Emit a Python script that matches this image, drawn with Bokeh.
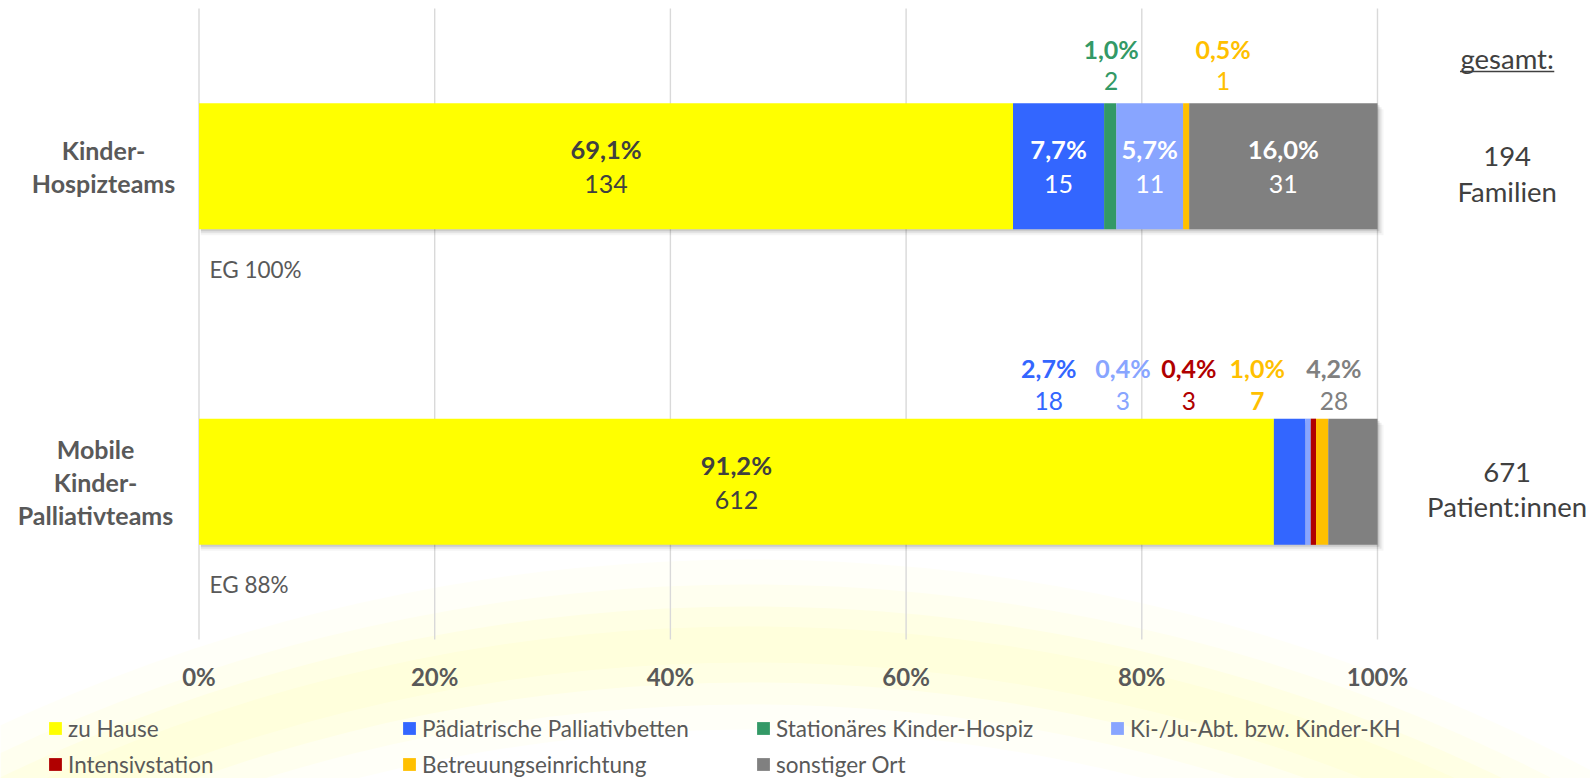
from bokeh.plotting import figure
from bokeh.models import (Range1d, FixedTicker, PrintfTickFormatter, ColumnDataSource,
                          Legend, LegendItem, LinearAxis)
from bokeh.core.properties import value
from bokeh.embed import file_html
from bokeh.resources import INLINE

# ---------------- data ----------------
categories = ["Kinder-Hospizteams", "Mobile Kinder-Palliativteams"]
category_labels = ["Kinder-\nHospizteams", "Mobile\nKinder-\nPalliativteams"]
series_names = ["zu Hause", "Pädiatrische Palliativbetten", "Stationäres Kinder-Hospiz",
                "Ki-/Ju-Abt. bzw. Kinder-KH", "Intensivstation", "Betreuungseinrichtung",
                "sonstiger Ort"]
counts_hospiz = [134, 15, 2, 11, 0, 1, 31]
counts_palliativ = [612, 18, 0, 3, 3, 7, 28]
totals = [194, 671]
total_units = ["Familien", "Patient:innen"]
total_header = "gesamt:"
eg_labels = ["EG 100%", "EG 88%"]
x_ticks = [0, 20, 40, 60, 80, 100]

# ---------------- styles / layout ----------------
series_colors = ["#FFFF00", "#3366FF", "#339966", "#88A5FF", "#B00000", "#FFC000", "#808080"]
inside_text_colors = ["#404040", "white", "white", "white", "white", "white", "white"]
FONT = "Lato"
W, H = 1590, 778
PX_X0 = 198.5          # screen x of 0 %
PX_PER_PCT = 11.785    # screen px per percent
PX_TOP = 8             # screen y of top of category area
PX_PER_CAT = 315.5     # screen px per category band
BAR_H = 0.4
cat_y = [0.5, 1.5]
cat_label_x = [-8.1, -8.78]
# outside label positions (in % of x axis)
outside_x = {(0, 2): 77.4, (0, 5): 86.9, (1, 1): 72.1, (1, 3): 78.4,
             (1, 4): 84.0, (1, 5): 89.8, (1, 6): 96.3}
outside_pct_above = [54, 51]
outside_cnt_above = [22, 18]
bold_counts = {(1, 5)}
TOTAL_X = 111.0


def dy(px):
    return px / PX_PER_CAT


def fmt_pct(v):
    return f"{v:.1f}".replace(".", ",") + "%"


counts = [counts_hospiz, counts_palliativ]
shares = [[c / t * 100.0 for c in row] for row, t in zip(counts, totals)]

p = figure(width=W, height=H,
           x_range=Range1d(-PX_X0 / PX_PER_PCT, (W - PX_X0) / PX_PER_PCT),
           y_range=Range1d((H - PX_TOP) / PX_PER_CAT, -PX_TOP / PX_PER_CAT),
           output_backend="svg", toolbar_location=None, min_border=0,
           x_axis_location=None, y_axis_location=None)
p.outline_line_color = None
p.background_fill_color = "white"
p.border_fill_color = "white"
p.xgrid.visible = False
p.ygrid.visible = False

# background glow (decorative sun arc)
glow_x, glow_y, glow_r = 46.8, (2338 - PX_TOP) / PX_PER_CAT, 1694
for half, alpha in [(85, 0.035), (60, 0.045), (38, 0.05), (18, 0.045)]:
    p.annulus(x=[glow_x], y=[glow_y], inner_radius=glow_r - half, outer_radius=glow_r + half,
              inner_radius_units="screen", outer_radius_units="screen",
              fill_color="#FFFF30", fill_alpha=alpha, line_color=None, level="image")

# vertical gridlines
p.segment(x0=x_ticks, y0=[0] * len(x_ticks), x1=x_ticks, y1=[2] * len(x_ticks),
          line_color="#D9D9D9", line_width=1.4, level="underlay")

# bar shadows
for off, alpha in [(2, 0.10), (4, 0.07), (6, 0.04)]:
    p.hbar(y=[c + dy(off) for c in cat_y], left=[0.15, 0.15],
           right=[sum(s) + off / PX_PER_PCT for s in shares],
           height=BAR_H, fill_color="black", fill_alpha=alpha, line_color=None)

# stacked bars
renderers = []
for s, name in enumerate(series_names):
    left = [sum(shares[c][:s]) for c in range(2)]
    right = [sum(shares[c][:s + 1]) for c in range(2)]
    src = ColumnDataSource(dict(y=cat_y, left=left, right=right))
    r = p.hbar(y="y", left="left", right="right", height=BAR_H, source=src,
               fill_color=series_colors[s], line_color=None)
    renderers.append(r)

# value labels
in_rows = dict(x=[], yp=[], yc=[], pct=[], cnt=[], col=[])
out_rows = dict(x=[], yp=[], yc=[], pct=[], cnt=[], col=[])
out_bold = dict(x=[], y=[], cnt=[], col=[])
for c in range(2):
    for s in range(len(series_names)):
        if counts[c][s] == 0:
            continue
        mid = sum(shares[c][:s]) + shares[c][s] / 2
        if (c, s) in outside_x:
            top = cat_y[c] - BAR_H / 2
            out_rows["x"].append(outside_x[(c, s)])
            out_rows["yp"].append(top - dy(outside_pct_above[c]))
            out_rows["pct"].append(fmt_pct(shares[c][s]))
            out_rows["col"].append(series_colors[s])
            out_rows["yc"].append(top - dy(outside_cnt_above[c]))
            if (c, s) in bold_counts:
                out_bold["x"].append(outside_x[(c, s)])
                out_bold["y"].append(top - dy(outside_cnt_above[c]))
                out_bold["cnt"].append(str(counts[c][s]))
                out_bold["col"].append(series_colors[s])
                out_rows["cnt"].append("")
            else:
                out_rows["cnt"].append(str(counts[c][s]))
        else:
            in_rows["x"].append(mid)
            in_rows["yp"].append(cat_y[c] - dy(17))
            in_rows["yc"].append(cat_y[c] + dy(18))
            in_rows["pct"].append(fmt_pct(shares[c][s]))
            in_rows["cnt"].append(str(counts[c][s]))
            in_rows["col"].append(inside_text_colors[s])

isrc = ColumnDataSource(in_rows)
osrc = ColumnDataSource(out_rows)
bsrc = ColumnDataSource(out_bold)
common = dict(text_font=value(FONT), text_align="center", text_baseline="middle")
p.text(x="x", y="yp", text="pct", text_color="col", text_font_style="bold",
       text_font_size="25.5px", source=isrc, **common)
p.text(x="x", y="yc", text="cnt", text_color="col", text_font_size="25px", source=isrc, **common)
p.text(x="x", y="yp", text="pct", text_color="col", text_font_style="bold",
       text_font_size="25px", source=osrc, **common)
p.text(x="x", y="yc", text="cnt", text_color="col", text_font_size="24.5px", source=osrc, **common)
p.text(x="x", y="y", text="cnt", text_color="col", text_font_style="bold",
       text_font_size="24.5px", source=bsrc, **common)

# category labels
p.text(x=cat_label_x, y=cat_y, text=category_labels, text_color="#595959",
       text_font=value(FONT), text_font_style="bold", text_font_size="25px",
       text_align="center", text_baseline="middle", text_line_height=1.1)

# EG labels
p.text(x=[0.9, 0.9], y=[c + dy(103) for c in cat_y], text=eg_labels, text_color="#595959",
       text_font=value(FONT), text_font_size="22.5px", text_align="left", text_baseline="middle")

# totals on the right
p.text(x=[TOTAL_X], y=[dy(50)], text=[total_header], text_color="#404040",
       text_font=value(FONT), text_font_size="27.5px", text_align="center", text_baseline="middle")
p.segment(x0=[TOTAL_X - 4.0], y0=[dy(63)], x1=[TOTAL_X + 4.0], y1=[dy(63)],
          line_color="#404040", line_width=1.3)
p.text(x=[TOTAL_X] * 2, y=[c - dy(9.5) for c in cat_y], text=[str(t) for t in totals],
       text_color="#404040", text_font=value(FONT), text_font_size="27.5px",
       text_align="center", text_baseline="middle")
p.text(x=[TOTAL_X] * 2, y=[c + dy(25) for c in cat_y], text=total_units,
       text_color="#404040", text_font=value(FONT), text_font_size="27.5px",
       text_align="center", text_baseline="middle")

# x axis
xaxis = LinearAxis(ticker=FixedTicker(ticks=x_ticks), formatter=PrintfTickFormatter(format="%d%%"),
                   fixed_location=2.0)
xaxis.axis_line_color = None
xaxis.major_tick_line_color = None
xaxis.minor_tick_line_color = None
xaxis.major_tick_out = 0
xaxis.major_tick_in = 0
xaxis.major_label_standoff = 22
xaxis.major_label_text_font = FONT
xaxis.major_label_text_font_style = "bold"
xaxis.major_label_text_font_size = "24px"
xaxis.major_label_text_color = "#595959"
p.add_layout(xaxis, "below")

# legend
legend = Legend(items=[LegendItem(label=n, renderers=[r]) for n, r in zip(series_names, renderers)],
                location=(47, -4), orientation="horizontal", ncols=4,
                glyph_width=16, glyph_height=16, label_standoff=5, label_width=333,
                label_height=36, spacing=0, padding=0, margin=0,
                border_line_color=None, background_fill_alpha=0,
                label_text_font=FONT, label_text_font_size="22.5px", label_text_color="#595959")
p.add_layout(legend)

open("out.html", "w").write(file_html(p, INLINE))
